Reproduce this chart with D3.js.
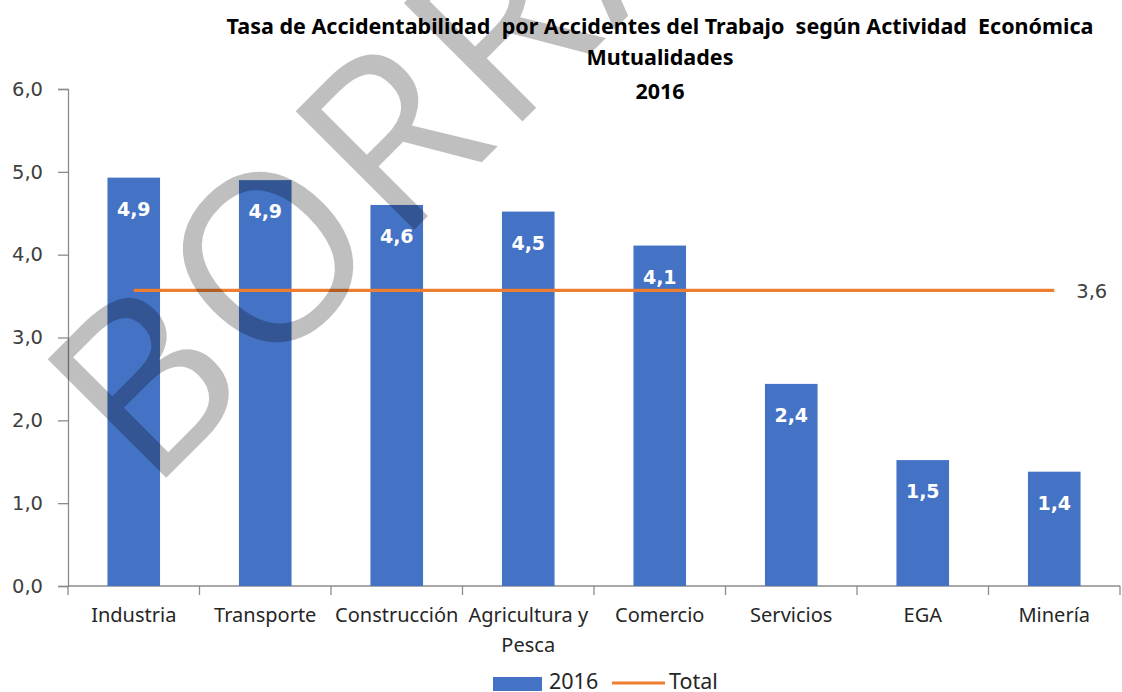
<!DOCTYPE html>
<html>
<head>
<meta charset="utf-8">
<script src="https://cdn.jsdelivr.net/npm/d3@7"></script>
<style>
  body { margin: 0; background: #fff; }
  svg { display: block; }
</style>
</head>
<body>
<svg width="1122" height="692"></svg>
<script>
// data
let categories = ['Industria', 'Transporte', 'Construcción', 'Agricultura y Pesca', 'Comercio', 'Servicios', 'EGA', 'Minería'];
let values2016 = [4.93, 4.90, 4.60, 4.52, 4.11, 2.44, 1.52, 1.38];
let totalRate = 3.57;
let yTicks = [0, 1, 2, 3, 4, 5, 6];
let titleLines = ['Tasa de Accidentabilidad  por Accidentes del Trabajo  según Actividad  Económica', 'Mutualidades', '2016'];
let legendNames = ['2016', 'Total'];
let watermark = 'BORRADOR';

let svg = d3.select('svg');
let width = +svg.attr('width');
let height = +svg.attr('height');

let padding = { t: 89, r: 2, b: 106, l: 68 };

let blue = '#4472C4';
let orange = '#ED7D31';
let narrow = '"Noto Sans", sans-serif';
let verd = '"DejaVu Sans", Verdana, sans-serif';

let xScale = d3.scaleBand()
    .domain(categories)
    .range([padding.l, width - padding.r])
    .paddingInner(0.6)
    .paddingOuter(0.3);

let yScale = d3.scaleLinear()
    .domain([0, 6])
    .range([height - padding.b, padding.t]);

let fmt = d => d3.format('.1f')(d).replace('.', ',');

// title
svg.append('g').selectAll('text').data(titleLines).enter().append('text')
    .attr('x', 660)
    .attr('y', (d, i) => [34, 65, 99][i])
    .attr('text-anchor', 'middle')
    .style('white-space', 'pre')
    .attr('font-family', narrow)
    .attr('font-weight', 'bold')
    .attr('font-size', '21.5px')
    .attr('fill', '#000')
    .text(d => d);

// y axis
let yAxis = svg.append('g')
    .attr('transform', 'translate(' + padding.l + ',0)')
    .call(d3.axisLeft(yScale).tickValues(yTicks).tickFormat(fmt).tickSize(10).tickPadding(15));
yAxis.select('.domain').attr('stroke', '#8c8c8c').attr('stroke-width', 1.3);
yAxis.selectAll('.tick line').attr('stroke', '#8c8c8c').attr('stroke-width', 1.3);
yAxis.selectAll('.tick text')
    .attr('font-family', verd)
    .attr('font-size', '19.5px')
    .attr('fill', '#404040');

// x axis with ticks between categories
let xAxisG = svg.append('g')
    .attr('transform', 'translate(0,' + yScale(0) + ')');
xAxisG.append('line')
    .attr('x1', padding.l).attr('x2', width - padding.r)
    .attr('stroke', '#8c8c8c').attr('stroke-width', 1.3);
let step = xScale.step();
let boundaries = categories.map(c => xScale(c) - (step - xScale.bandwidth()) / 2).concat([width - padding.r]);
xAxisG.selectAll('.xtick').data(boundaries).enter().append('line')
    .attr('class', 'xtick')
    .attr('x1', d => d).attr('x2', d => d)
    .attr('y1', 0).attr('y2', 9)
    .attr('stroke', '#8c8c8c').attr('stroke-width', 1.3);

let catLabels = xAxisG.selectAll('.cat').data(categories).enter().append('text')
    .attr('class', 'cat')
    .attr('x', d => xScale(d) + xScale.bandwidth() / 2)
    .attr('y', 36)
    .attr('text-anchor', 'middle')
    .attr('font-family', narrow)
    .attr('font-size', '20px')
    .attr('fill', '#262626')
    .text(d => d);
catLabels.each(function() { wrap(d3.select(this), step); });

// bars
svg.append('g').selectAll('.bar').data(values2016).enter().append('rect')
    .attr('class', 'bar')
    .attr('x', (d, i) => xScale(categories[i]))
    .attr('y', d => yScale(d))
    .attr('width', xScale.bandwidth())
    .attr('height', d => yScale(0) - yScale(d))
    .attr('fill', blue);

svg.append('g').selectAll('.bar-label').data(values2016).enter().append('text')
    .attr('class', 'bar-label')
    .attr('x', (d, i) => xScale(categories[i]) + xScale.bandwidth() / 2)
    .attr('y', d => yScale(d) + 38)
    .attr('text-anchor', 'middle')
    .attr('font-family', verd)
    .attr('font-weight', 'bold')
    .attr('font-size', '19px')
    .attr('fill', '#fff')
    .text(d => fmt(d));

// total line
let firstC = xScale(categories[0]) + xScale.bandwidth() / 2;
let lastC = xScale(categories[categories.length - 1]) + xScale.bandwidth() / 2;
svg.append('line')
    .attr('x1', firstC).attr('x2', lastC)
    .attr('y1', yScale(totalRate)).attr('y2', yScale(totalRate))
    .attr('stroke', orange)
    .attr('stroke-width', 3.2);
svg.append('text')
    .attr('x', lastC + 22)
    .attr('y', yScale(totalRate) + 8)
    .attr('font-family', verd)
    .attr('font-size', '19.5px')
    .attr('fill', '#404040')
    .text(fmt(totalRate));

// legend
let legend = svg.append('g').attr('transform', 'translate(493,684)');
legend.append('rect')
    .attr('x', 0).attr('y', -7).attr('width', 49).attr('height', 14)
    .attr('fill', blue);
legend.append('text')
    .attr('x', 56).attr('y', 5)
    .attr('font-family', narrow).attr('font-size', '21.5px').attr('fill', '#262626')
    .text(legendNames[0]);
legend.append('line')
    .attr('x1', 119).attr('x2', 172).attr('y1', -1).attr('y2', -1)
    .attr('stroke', orange).attr('stroke-width', 3.2);
legend.append('text')
    .attr('x', 176).attr('y', 5)
    .attr('font-family', narrow).attr('font-size', '21.5px').attr('fill', '#262626')
    .text(legendNames[1]);

// watermark on top
svg.append('text')
    .attr('transform', 'translate(150,494) rotate(-45)')
    .attr('font-family', '"Open Sans", "DejaVu Sans", sans-serif')
    .attr('font-size', '235px')
    .attr('letter-spacing', '8px')
    .attr('fill', '#000')
    .attr('fill-opacity', 0.25)
    .text(watermark);

function wrap(text, w) {
    let words = text.text().split(/\s+/);
    let x = text.attr('x');
    let y = text.attr('y');
    text.text(null);
    let line = [];
    let lineNo = 0;
    let tspan = text.append('tspan').attr('x', x).attr('y', y);
    words.forEach(word => {
        line.push(word);
        tspan.text(line.join(' '));
        if (tspan.node().getComputedTextLength() > w - 2 && line.length > 1) {
            line.pop();
            tspan.text(line.join(' '));
            line = [word];
            lineNo++;
            tspan = text.append('tspan').attr('x', x).attr('y', +y + lineNo * 30).text(word);
        }
    });
}
</script>
</body>
</html>
